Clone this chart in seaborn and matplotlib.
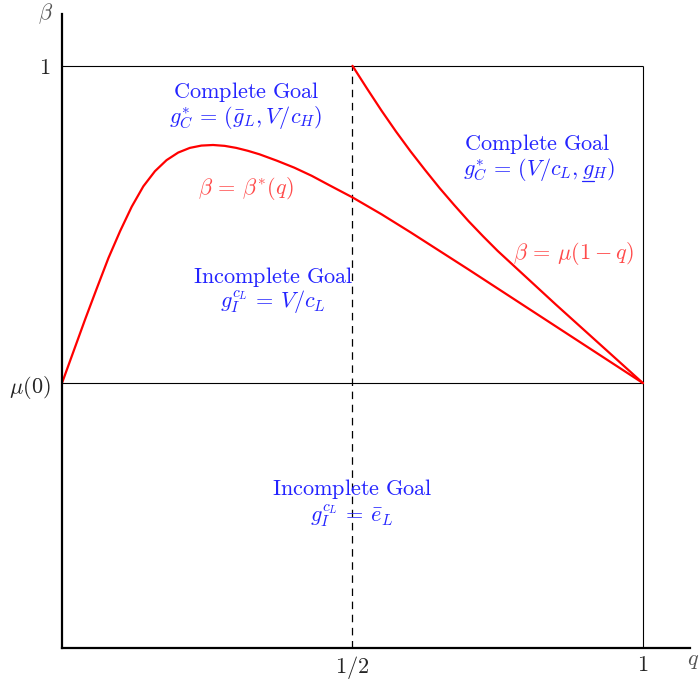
import numpy as np
import pandas as pd
import matplotlib
matplotlib.use("Agg")
import matplotlib.pyplot as plt
from matplotlib.lines import Line2D
import seaborn as sns

sns.set_theme(style="white")
plt.rcParams["mathtext.fontset"] = "cm"
plt.rcParams["font.family"] = ["DejaVu Serif"]

# Threshold values
mu0 = 0.455          # mu(0)
q_half = 0.5

# beta*(q) boundary curve
q_star = [0.0, 0.02, 0.04, 0.06, 0.08, 0.10, 0.12, 0.14, 0.16, 0.18, 0.20,
          0.22, 0.24, 0.26, 0.28, 0.30, 0.32, 0.34, 0.37, 0.40, 0.43, 0.46,
          0.50, 0.55, 0.60, 0.65, 0.70, 0.80, 0.90, 1.0]
beta_star = [0.455, 0.51, 0.565, 0.618, 0.670, 0.716, 0.758, 0.793, 0.819, 0.838, 0.851,
             0.859, 0.863, 0.864, 0.8625, 0.859, 0.854, 0.848, 0.837, 0.825, 0.811, 0.795,
             0.774, 0.745, 0.714, 0.682, 0.650, 0.585, 0.520, 0.455]

# beta = mu(1 - q) boundary curve
q_mu = [0.5, 0.525, 0.55, 0.575, 0.6, 0.625, 0.65, 0.675, 0.7, 0.725, 0.75,
        0.775, 0.8, 0.85, 0.9, 0.95, 1.0]
beta_mu = [1.0, 0.961, 0.923, 0.887, 0.853, 0.821, 0.790, 0.761, 0.733, 0.707, 0.682,
           0.659, 0.636, 0.590, 0.545, 0.500, 0.455]

x_ticks = [0.5, 1.0]
x_tick_labels = [r"$1/2$", r"$1$"]
y_ticks = [mu0, 1.0]
y_tick_labels = [r"$\mu(0)$", r"$1$"]

star_df = pd.DataFrame({"q": q_star, "beta": beta_star})
mu_df = pd.DataFrame({"q": q_mu, "beta": beta_mu})

fig = plt.figure(figsize=(7.0, 6.8), dpi=100)
ax = fig.add_axes([62 / 700, 32 / 680, 628 / 700, 634 / 680])
ax.set_xlim(0, 1.081)
ax.set_ylim(0, 1.089)

# Region boundaries
ax.hlines([1.0, mu0], 0, 1.0, color="black", lw=0.8)
ax.vlines(1.0, 0, 1.0, color="black", lw=0.8)
ax.vlines(q_half, 0, 1.0, color="black", lw=0.9, linestyles=(0, (6, 4.5)))

for df in (star_df, mu_df):
    sns.lineplot(data=df, x="q", y="beta", color="red", lw=1.6, ax=ax,
                 sort=False, estimator=None, solid_joinstyle="round")

# Axes: only the left and bottom spines, drawn heavy
for side in ["top", "right"]:
    ax.spines[side].set_visible(False)
for side in ["left", "bottom"]:
    ax.spines[side].set_color("black")
    ax.spines[side].set_linewidth(1.6)

tick_fs = 16
ax.set_xticks(x_ticks)
ax.set_xticklabels(x_tick_labels, fontsize=tick_fs)
ax.set_yticks(y_ticks)
ax.set_yticklabels(y_tick_labels, fontsize=tick_fs)
ax.tick_params(axis="x", length=0, pad=4)
ax.tick_params(axis="y", length=0, pad=8)
ax.set_xlabel("")
ax.set_ylabel("")
ax.grid(False)

ax.text(-0.028, 1.09, r"$\beta$", fontsize=tick_fs, ha="center", va="center",
        color="#555555", clip_on=False)
ax.text(1.086, -0.02, r"$q$", fontsize=tick_fs, ha="center", va="center",
        color="#555555", clip_on=False)

blue = "#2424ff"
red_txt = "#ff4c4c"
fs = 16
region_text = [
    (0.317, 0.955, 0.911, r"$\mathrm{Complete\ Goal}$", r"$g_C^{*}\,=\,(\bar{g}_L, V/c_H)$"),
    (0.363, 0.637, 0.593, r"$\mathrm{Incomplete\ Goal}$", r"$g_I^{c_L}\,=\,V/c_L$"),
    (0.499, 0.273, 0.227, r"$\mathrm{Incomplete\ Goal}$", r"$g_I^{c_L}\,=\,\bar{e}_L$"),
]
for x, y1, y2, t1, t2 in region_text:
    ax.text(x, y1, t1, fontsize=fs, color=blue, ha="center", va="center")
    ax.text(x, y2, t2, fontsize=fs, color=blue, ha="center", va="center")

# Right-hand region: the second component carries an underlined g
ax.text(0.818, 0.866, r"$\mathrm{Complete\ Goal}$", fontsize=fs, color=blue,
        ha="center", va="center")
formula_prefix = r"$g_C^{*}\,=\,(V/c_L, g"
formula = ax.text(0.821, 0.821, formula_prefix + r"_H)$", fontsize=fs,
                  color=blue, ha="center", va="center")

ax.text(0.317, 0.790, r"$\beta\,=\,\beta^{*}(q)$", fontsize=fs, color=red_txt,
        ha="center", va="center")
ax.text(0.881, 0.677, r"$\beta\,=\,\mu(1-q)$", fontsize=fs, color=red_txt,
        ha="center", va="center")

# Underline under the g of g_H, placed from measured text extents
fig.canvas.draw()
renderer = fig.canvas.get_renderer()


def text_width(s):
    t = ax.text(0, 0, s, fontsize=fs)
    w = t.get_window_extent(renderer).width
    t.remove()
    return w


bb = formula.get_window_extent(renderer)
w_pre = text_width(formula_prefix + "$")
w_g = text_width(r"$g$")
x1 = bb.x0 + w_pre - w_g + 0.5
x2 = bb.x0 + w_pre - 0.5
y_line = bb.y0 + 2.5
inv = fig.transFigure.inverted()
(fx1, fy), (fx2, _) = inv.transform([(x1, y_line), (x2, y_line)])
fig.add_artist(Line2D([fx1, fx2], [fy, fy], color=blue, lw=0.9))

fig.savefig("out.png", dpi=100)
